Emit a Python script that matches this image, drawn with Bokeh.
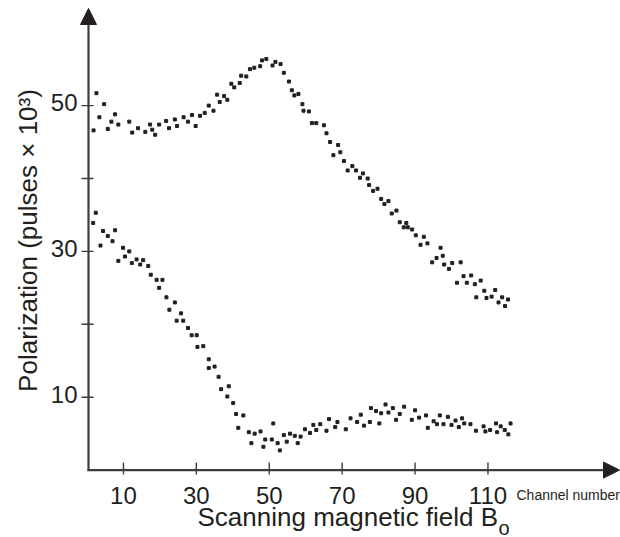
import math
from bokeh.plotting import figure
from bokeh.models import Range1d, Arrow, NormalHead, Label
from bokeh.core.properties import value
from bokeh.embed import file_html
from bokeh.resources import INLINE

# ---- data ----
upper_x = [1.8, 2.6, 3.4, 4.7, 5.7, 6.7, 7.7, 8.6, 11.6, 12.4, 14.0, 16.0, 17.3, 17.9, 18.7,
           19.8, 21.7, 22.5, 24.1, 24.7, 26.5, 27.7, 28.8, 29.8, 31.0, 32.3, 33.4, 34.7, 35.7,
           36.4, 37.6, 38.5, 39.6, 40.4, 41.9, 42.3, 43.7, 44.7, 45.9, 47.5, 48.0, 49.2, 50.9,
           51.7, 53.1, 54.0, 55.4, 56.2, 56.9, 58.0, 59.1, 59.4, 60.9, 61.7, 62.9, 65.0, 65.7,
           66.7, 67.6, 68.9, 69.5, 70.5, 71.5, 72.8, 73.8, 74.9, 75.7, 77.0, 77.4, 78.5, 79.7,
           80.7, 81.6, 82.7, 83.6, 84.9, 85.8, 86.9, 87.6, 88.0, 89.2, 90.2, 91.5, 92.4, 93.4,
           94.7, 95.9, 97.0, 97.6, 98.0, 99.3, 100.2, 101.5, 102.5, 103.3, 104.2, 105.4, 106.4,
           106.8, 108.0, 109.0, 109.6, 111.0, 112.0, 112.9, 113.9, 114.7, 115.5]
upper_y = [46.6, 51.7, 48.4, 50.2, 46.8, 47.8, 48.8, 47.4, 47.8, 46.3, 46.9, 46.4, 47.4, 46.7, 46.0,
           47.4, 47.9, 46.9, 48.1, 47.2, 48.4, 47.8, 48.7, 47.2, 48.6, 49.0, 50.0, 49.3, 51.5,
           50.5, 51.3, 50.8, 53.0, 52.5, 53.1, 54.1, 54.0, 55.0, 55.2, 55.4, 56.2, 56.4, 55.5,
           56.0, 55.7, 54.5, 53.3, 52.1, 51.4, 51.6, 50.2, 49.3, 49.2, 47.6, 47.6, 47.3, 46.2,
           45.0, 43.2, 44.6, 43.6, 42.4, 41.1, 41.7, 41.1, 40.1, 40.7, 40.0, 39.1, 38.3, 38.6,
           37.2, 36.5, 36.9, 35.2, 35.6, 34.0, 33.3, 33.9, 33.3, 33.0, 32.2, 30.9, 32.0, 31.1,
           28.5, 29.1, 30.5, 29.4, 28.2, 27.6, 28.4, 25.7, 28.5, 26.6, 25.7, 26.7, 25.5,
           23.7, 26.0, 24.6, 23.6, 23.8, 24.7, 23.0, 23.7, 22.5, 23.4]

lower_x = [1.7, 2.4, 3.7, 4.4, 5.7, 7.0, 7.7, 8.6, 9.9, 10.4, 11.6, 12.3, 13.6, 14.6, 15.4, 16.8,
           17.5, 19.1, 19.8, 20.7, 21.8, 22.6, 24.1, 24.6, 25.8, 26.4, 27.7, 28.7, 30.1, 30.3,
           31.9, 33.4, 33.4, 35.0, 36.1, 36.8, 38.5, 38.9, 40.1, 40.9, 41.5, 42.9, 44.4, 45.1,
           46.0, 47.6, 48.4, 48.9, 50.7, 51.1, 52.3, 52.9, 54.0, 54.8, 55.7, 57.0, 57.8, 58.6,
           59.8, 61.2, 62.1, 62.9, 64.0, 65.7, 66.4, 68.1, 68.7, 71.0, 72.3, 74.1, 75.1, 76.0,
           77.6, 77.9, 79.3, 80.2, 80.7, 81.9, 82.7, 83.9, 84.8, 85.8, 87.0, 89.1, 90.0, 91.1,
           93.0, 93.5, 95.1, 96.0, 96.8, 97.8, 99.0, 100.0, 101.1, 102.0, 102.9, 103.5, 105.2,
           106.7, 108.8, 109.3, 110.6, 112.2, 112.5, 113.5, 114.6, 115.6, 116.2]
lower_y = [33.9, 35.3, 30.8, 32.8, 32.1, 31.4, 32.9, 28.7, 30.5, 29.3, 30.0, 28.4, 28.9, 28.2, 28.8, 28.0,
           26.8, 26.1, 25.0, 26.1, 23.7, 22.0, 23.0, 20.5, 21.5, 20.5, 19.5, 18.5, 18.5, 16.9,
           17.0, 15.2, 14.0, 14.2, 12.8, 11.1, 10.1, 11.5, 9.2, 7.7, 5.8, 7.5, 5.2, 3.7,
           5.0, 5.3, 3.2, 4.2, 4.2, 6.4, 3.7, 2.7, 4.8, 3.9, 5.0, 4.7, 3.7, 4.6,
           5.6, 5.1, 6.2, 5.5, 6.3, 5.4, 7.0, 5.9, 6.6, 5.6, 7.1, 6.6, 7.6, 6.1,
           6.6, 8.5, 8.1, 6.4, 7.8, 9.0, 7.9, 8.5, 6.9, 7.7, 8.7, 6.9, 8.2, 7.2,
           7.5, 5.8, 6.7, 6.3, 7.5, 6.3, 7.3, 6.2, 6.8, 5.9, 7.1, 6.4, 6.3,
           5.4, 6.0, 5.3, 5.5, 6.4, 5.2, 6.0, 5.5, 4.9, 6.4]

x_ticks = [10, 30, 50, 70, 90, 110]
y_ticks = [10, 30, 50]
y_minor_ticks = [20, 40]

# ---- layout: the frame fills the whole canvas; axes are drawn by hand ----
W, H = 620, 537
PX_X0, PX_PER_X = 86.5, 3.645     # screen x of channel 0, pixels per channel
PX_Y0, PX_PER_Y = 469.6, 7.29     # screen y of polarization 0, pixels per unit

def dx(px):
    return (px - PX_X0) / PX_PER_X

def dy(py):
    return (PX_Y0 - py) / PX_PER_Y

INK = "#231f20"
AXIS = "#3d3d3d"
FONT = "Liberation Sans"

p = figure(width=W, height=H, output_backend="svg", toolbar_location=None,
           x_range=Range1d(dx(0), dx(W)), y_range=Range1d(dy(H), dy(0)),
           x_axis_location=None, y_axis_location=None,
           min_border=0, min_border_left=0, min_border_right=0,
           min_border_top=0, min_border_bottom=0)
p.outline_line_color = None
p.xgrid.visible = False
p.ygrid.visible = False
p.background_fill_color = "white"
p.border_fill_color = "white"

AX_X = dx(88)      # position of the vertical axis (data units)
AX_Y = 0.0         # position of the horizontal axis

# axes with arrowheads
p.add_layout(Arrow(end=NormalHead(size=16, fill_color=INK, line_color=INK, line_width=1),
                   x_start=AX_X, y_start=dy(470.5), x_end=AX_X, y_end=dy(8),
                   line_color=AXIS, line_width=2.2))
p.add_layout(Arrow(end=NormalHead(size=16, fill_color=INK, line_color=INK, line_width=1),
                   x_start=dx(87), y_start=AX_Y, x_end=dx(619), y_end=AX_Y,
                   line_color=AXIS, line_width=2.2))

# ticks
p.segment(x0=x_ticks, y0=[dy(474)] * len(x_ticks), x1=x_ticks, y1=[dy(462)] * len(x_ticks),
          line_color=AXIS, line_width=1.4)
all_y = y_ticks + y_minor_ticks
p.segment(x0=[dx(81)] * len(all_y), y0=all_y, x1=[dx(93)] * len(all_y), y1=all_y,
          line_color=AXIS, line_width=1.4)

# tick labels
p.text(x=x_ticks, y=[dy(495)] * len(x_ticks), text=[str(v) for v in x_ticks],
       text_align="center", text_baseline="alphabetic",
       text_font=value(FONT), text_font_size="24px", text_color=INK)
p.text(x=[dx(77)] * len(y_ticks), y=y_ticks, text=[str(v) for v in y_ticks],
       text_align="right", text_baseline="middle", y_offset=-3,
       text_font=value(FONT), text_font_size="24px", text_color=INK)

# data
p.scatter(upper_x, upper_y, marker="square", size=3, color=INK)
p.scatter(lower_x, lower_y, marker="square", size=3, color=INK)

# axis titles
p.add_layout(Label(x=dx(27), y=dy(240), text="Polarization (pulses \u00d7 10\u00b3)",
                   angle=math.pi / 2, text_align="center", text_baseline="middle",
                   text_font=FONT, text_font_size="26px", text_color=INK))
p.add_layout(Label(x=dx(197), y=dy(516), text="Scanning magnetic field B",
                   text_align="left", text_baseline="alphabetic",
                   text_font=FONT, text_font_size="26px", text_color=INK))
p.add_layout(Label(x=dx(498), y=dy(527), text="o",
                   text_align="left", text_baseline="alphabetic",
                   text_font=FONT, text_font_size="20px", text_color=INK))
p.add_layout(Label(x=dx(516), y=dy(494), text="Channel number",
                   text_align="left", text_baseline="alphabetic",
                   text_font=FONT, text_font_size="14px", text_color=INK))

open("out.html", "w").write(file_html(p, INLINE))
